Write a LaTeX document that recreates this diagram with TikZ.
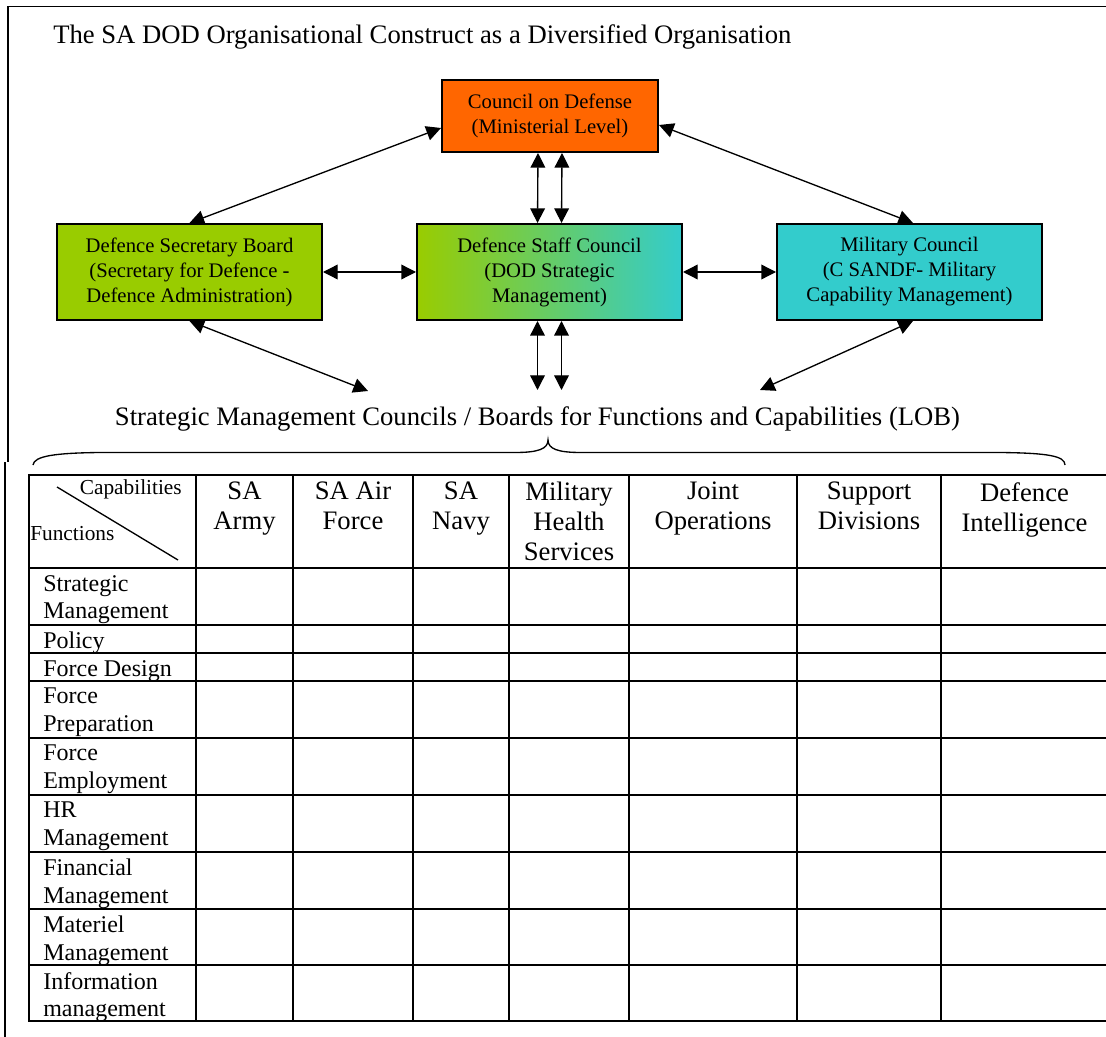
\documentclass[tikz,border=0pt]{standalone}
\usepackage{fontspec}
\setmainfont{Liberation Serif}
\usetikzlibrary{arrows.meta}
\definecolor{cdOrange}{RGB}{255,102,0}
\definecolor{cdGreen}{RGB}{153,204,0}
\definecolor{cdTeal}{RGB}{51,204,204}
\tikzset{
	board/.style={draw,line width=1.5pt,align=center,inner sep=0pt,font=\fontsize{15.5}{18.75}\selectfont},
	wideboard/.style={board,minimum width=198.75pt,minimum height=72pt},
	link/.style={{Triangle[length=11pt,width=11pt]}-{Triangle[length=11pt,width=11pt]},line width=1pt},
	gridline/.style={line width=1.5pt,line cap=rect},
	caplabel/.style={anchor=north,inner sep=0pt,align=center,font=\fontsize{20}{22.5}\selectfont},
	fnlabel/.style={anchor=north west,inner sep=0pt,align=left,font=\fontsize{18}{20.5}\selectfont},
}
\begin{document}
\begin{tikzpicture}[x=0.75pt,y=0.75pt,yscale=-1,xscale=1]
	\useasboundingbox (0,0) rectangle (1106,1037);
	\draw [line width=1.4pt] (1106,6.5) -- (8,6.5) -- (8,462) ;
	\draw [line width=1pt] (5,462) -- (5,1037) ;
	\node (title) [anchor=base west,inner sep=0pt,font=\fontsize{20}{24}\selectfont] at (53,44) {The SA DOD Organisational Construct as a Diversified Organisation};
	% councils
	\node (cod) [board,fill=cdOrange,minimum width=162pt,minimum height=54pt] at (550,116) {Council on Defense\\(Ministerial Level)};
	\node (dsb) [wideboard,fill=cdGreen] at (189.5,272) {Defence Secretary Board\\(Secretary for Defence -\\Defence Administration)};
	\node (dsc) [wideboard,left color=cdGreen,right color=cdTeal] at (549.5,272) {Defence Staff Council\\(DOD Strategic\\Management)};
	\node (mc) [wideboard,fill=cdTeal] at (909.5,272) {Military Council\\(C SANDF- Military\\Capability Management)};
	\node (lob) [anchor=base,inner sep=0pt,font=\fontsize{20}{24}\selectfont] at (537.5,425) {Strategic Management Councils / Boards for Functions and Capabilities (LOB)};
	\coordinate (lobW) at (368,391);
	\coordinate (lobA) at (537.5,390);
	\coordinate (lobB) at (561.5,390);
	\coordinate (lobE) at (760,390);
	% links
	\draw [link] ([yshift=9pt]cod.west) -- (dsb.north);
	\draw [link] ([yshift=6.75pt]cod.east) -- ([xshift=2.6pt]mc.north);
	\draw [link] ([xshift=-9pt]cod.south) -- ([xshift=-9pt]dsc.north);
	\draw [link] ([xshift=9pt]cod.south) -- ([xshift=9pt]dsc.north);
	\draw [link] (dsb.east) -- (dsc.west);
	\draw [link] (dsc.east) -- (mc.west);
	\draw [link] ([xshift=-9pt]dsc.south) -- (lobA);
	\draw [link] ([xshift=9pt]dsc.south) -- (lobB);
	\draw [link] (dsb.south) -- (lobW);
	\draw [link] ([xshift=2.6pt]mc.south) -- (lobE);
	% brace
	\draw [line width=1pt] (33,465) .. controls (34,456) and (55,453) .. (100,452.5) -- (515,452.5) .. controls (538,452.5) and (548,449) .. (548,440) .. controls (548,449) and (558,452.5) .. (581,452.5) -- (1000,452.5) .. controls (1048,453) and (1065,456) .. (1065,465) ;
	% table
	\foreach \ly in {475,568,625,653,681,738,795,852,909,965,1021}
		\draw [gridline] (29,\ly) -- (1106,\ly);
	\foreach \lx in {29,196,293,413,509,629,797,941}
		\draw [gridline] (\lx,475) -- (\lx,1021);
	\draw [line width=1pt] (57,487) -- (178,560) ;
	\node (capab) [anchor=base east,inner sep=0pt,font=\fontsize{16}{19}\selectfont] at (182,494) {Capabilities};
	\node (funct) [anchor=base west,inner sep=0pt,font=\fontsize{16}{19}\selectfont] at (30,540) {Functions};
	\foreach \cx/\lbl [count=\i] in {244.5/{SA\\Army},353/{SA Air\\Force},461/{SA\\Navy},569/{Military\\Health\\Services},713/{Joint\\Operations},869/{Support\\Divisions},1024.5/{Defence\\Intelligence}}
		\node (cap\i) [caplabel] at (\cx,482) {\lbl};
	\foreach \ry/\lbl [count=\i] in {568/{Strategic\\Management},625/Policy,653/{Force Design},681/{Force\\Preparation},738/{Force\\Employment},795/{HR\\Management},852/{Financial\\Management},909/{Materiel\\Management},965/{Information\\management}}
		\node (fn\i) [fnlabel] at (43,\ry+7) {\lbl};
\end{tikzpicture}
\end{document}
